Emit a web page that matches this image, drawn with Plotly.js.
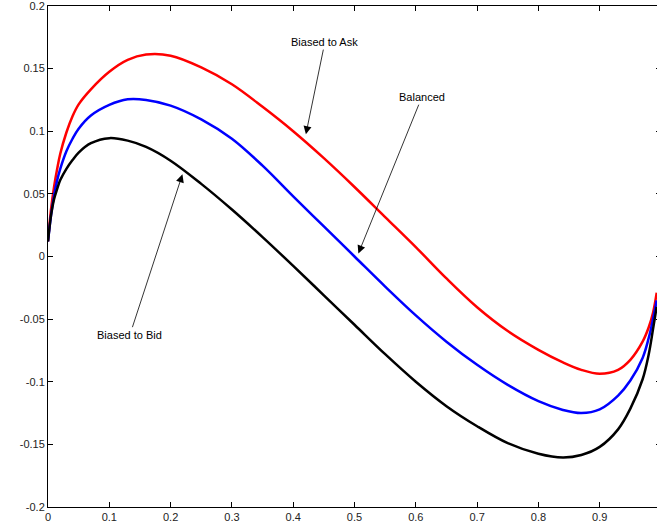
<!DOCTYPE html>
<html>
<head>
<meta charset="utf-8">
<script src="https://cdn.plot.ly/plotly-3.0.1.min.js"></script>
<style>
  html, body { margin: 0; padding: 0; overflow: hidden; background: #fff; }
  #chart { width: 662px; height: 529px; }
</style>
</head>
<body>
<div id="chart"></div>
<script>
// ---- data ----
const xValues = [0, 0.005, 0.01, 0.015, 0.02, 0.03, 0.04, 0.05, 0.07, 0.1, 0.13, 0.16, 0.2, 0.25, 0.3, 0.35, 0.4, 0.45, 0.5, 0.55, 0.6, 0.65, 0.7, 0.75, 0.8, 0.84, 0.87, 0.9, 0.93, 0.95, 0.97, 0.98, 0.987, 0.993];

const biasedToAsk = [0.012, 0.038, 0.056, 0.070, 0.082, 0.099, 0.112, 0.1215, 0.1335, 0.1475, 0.157, 0.1612, 0.1603, 0.151, 0.1375, 0.1195, 0.100, 0.0785, 0.0555, 0.0315, 0.0075, -0.0175, -0.0405, -0.0595, -0.0745, -0.0845, -0.0905, -0.0936, -0.0905, -0.0825, -0.068, -0.0565, -0.045, -0.029];

const balanced = [0.012, 0.033, 0.049, 0.061, 0.070, 0.084, 0.094, 0.102, 0.1125, 0.121, 0.1255, 0.125, 0.1205, 0.1095, 0.094, 0.0725, 0.048, 0.024, 0.0, -0.024, -0.047, -0.068, -0.0865, -0.1025, -0.1155, -0.1225, -0.125, -0.122, -0.111, -0.099, -0.081, -0.065, -0.050, -0.035];

const biasedToBid = [0.012, 0.033, 0.046, 0.054, 0.061, 0.070, 0.077, 0.083, 0.0905, 0.0945, 0.0925, 0.0875, 0.0765, 0.058, 0.0375, 0.0155, -0.0075, -0.031, -0.0545, -0.078, -0.100, -0.1195, -0.1355, -0.149, -0.1575, -0.1605, -0.1585, -0.152, -0.138, -0.1215, -0.098, -0.078, -0.058, -0.040];

const xTickVals = [0, 0.1, 0.2, 0.3, 0.4, 0.5, 0.6, 0.7, 0.8, 0.9];
const xTickText = ["0", "0.1", "0.2", "0.3", "0.4", "0.5", "0.6", "0.7", "0.8", "0.9"];
const yTickVals = [-0.2, -0.15, -0.1, -0.05, 0, 0.05, 0.1, 0.15, 0.2];
const yTickText = ["-0.2", "-0.15", "-0.1", "-0.05", "0", "0.05", "0.1", "0.15", "0.2"];

const labelAsk = "Biased to Ask";
const labelBalanced = "Balanced";
const labelBid = "Biased to Bid";

// ---- traces ----
const lineStyle = (c) => ({ color: c, width: 2.5, shape: 'spline', smoothing: 1 });
const traces = [
  { x: xValues, y: biasedToAsk, name: labelAsk, mode: 'lines', line: lineStyle('#ff0000') },
  { x: xValues, y: balanced, name: labelBalanced, mode: 'lines', line: lineStyle('#0000ff') },
  { x: xValues, y: biasedToBid, name: labelBid, mode: 'lines', line: lineStyle('#000000') }
];

const annFont = { family: 'Liberation Sans, Arial, sans-serif', size: 11, color: '#000' };
function arrowNote(text, tipX, tipY, txtX, txtY) {
  return {
    text: text, x: tipX, y: tipY, xref: 'x', yref: 'y',
    ax: txtX, ay: txtY, axref: 'x', ayref: 'y',
    showarrow: true, arrowhead: 2, arrowsize: 2, arrowwidth: 0.8,
    arrowcolor: '#000', standoff: 0, startstandoff: 0,
    font: annFont, bgcolor: 'rgba(0,0,0,0)', borderpad: 1
  };
}

const axisCommon = {
  tickmode: 'array',
  ticks: 'inside', ticklen: 5, tickwidth: 1, tickcolor: '#000',
  showline: true, linecolor: '#000', linewidth: 1, mirror: 'ticks',
  showgrid: false, zeroline: false, ticklabeloverflow: 'allow',
  tickfont: { size: 11, color: '#222' }
};

const layout = {
  width: 662, height: 529,
  margin: { l: 48, r: 1, t: 6, b: 22, pad: 0 },
  paper_bgcolor: '#fff', plot_bgcolor: '#fff',
  showlegend: false,
  font: { family: 'Liberation Sans, Arial, sans-serif', size: 11, color: '#222' },
  xaxis: Object.assign({}, axisCommon, { range: [0, 1], tickvals: xTickVals, ticktext: xTickText }),
  yaxis: Object.assign({}, axisCommon, { range: [-0.2, 0.2], tickvals: yTickVals, ticktext: yTickText }),
  annotations: [
    arrowNote(labelAsk, 0.4207, 0.0976, 0.4517, 0.1712),
    arrowNote(labelBalanced, 0.5063, 0.0024, 0.6098, 0.1272),
    arrowNote(labelBid, 0.2193, 0.0656, 0.1337, -0.0624)
  ]
};

Plotly.newPlot('chart', traces, layout, { displayModeBar: false, staticPlot: true });
</script>
</body>
</html>
